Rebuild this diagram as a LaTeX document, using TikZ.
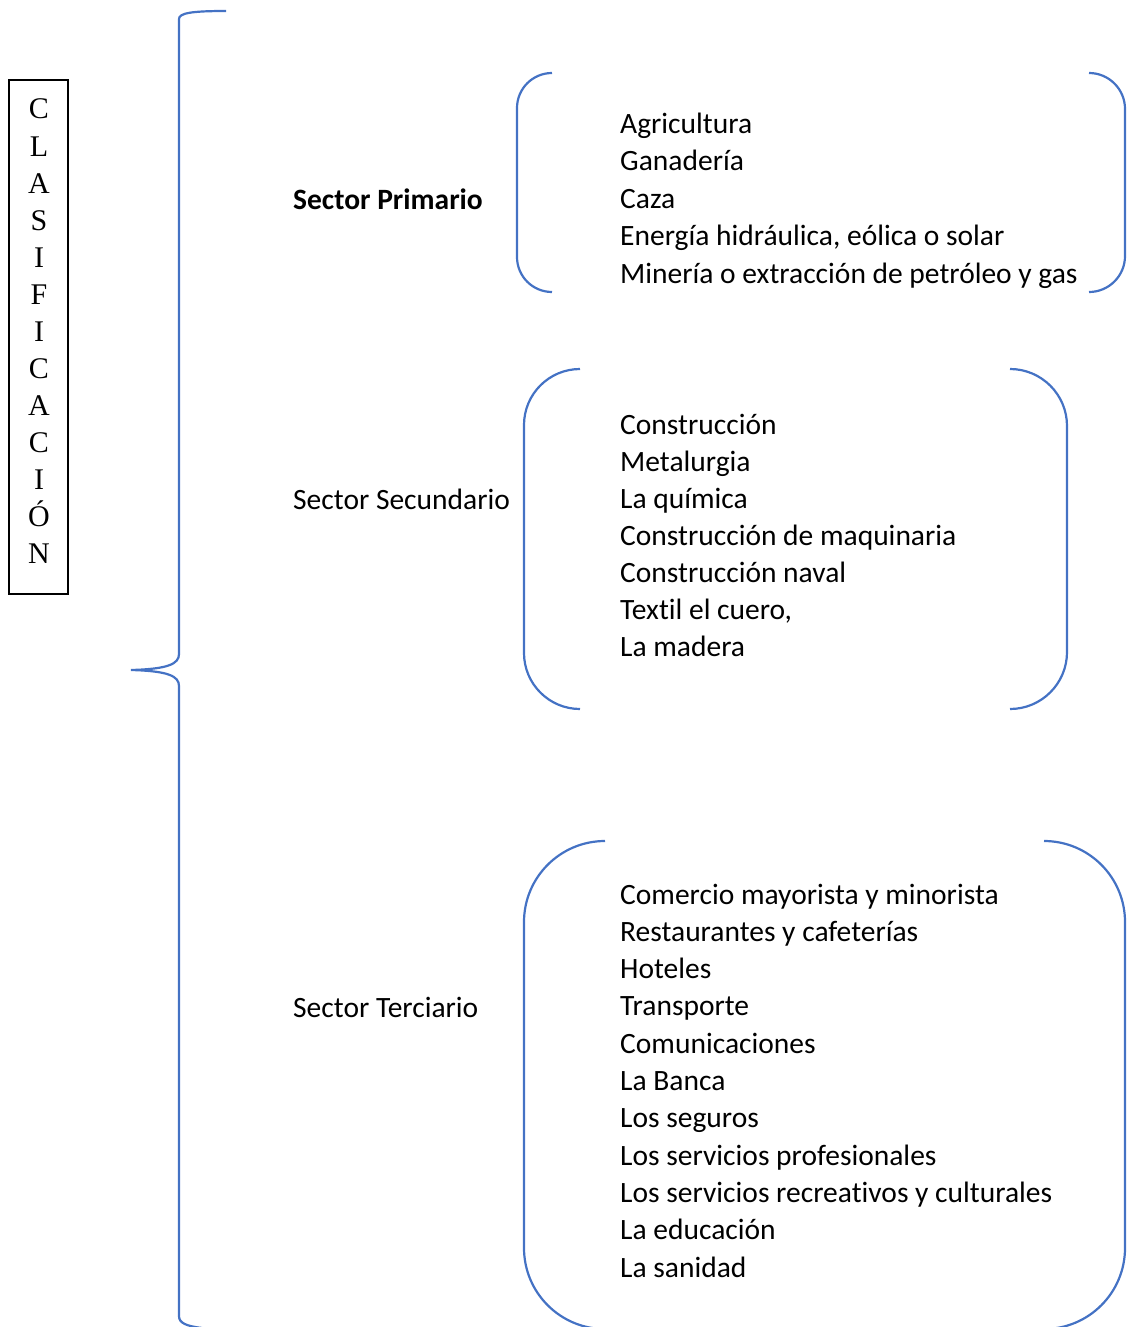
\documentclass[tikz,border=0pt]{standalone}
\usepackage{fontspec}
\setmainfont[Ligatures=NoCommon]{Carlito}
\newfontfamily\timesfont{Liberation Serif}
\definecolor{braceBlue}{RGB}{68,114,196}
\usetikzlibrary{positioning}

\begin{document}
\begin{tikzpicture}[x=1pt,y=-1pt,
    item/.style={anchor=base west,inner sep=0pt,font=\fontsize{29.5}{36}\selectfont},
    bline/.style={braceBlue,line width=2.2pt}]
  \useasboundingbox (0,0) rectangle (1127,1327);
  % vertical title box
  \draw[line width=1.8pt] (9,80) rectangle (68,594);
  \foreach \l [count=\i from 0] in {C,L,A,S,I,F,I,C,A,C,I,Ó,N}
    \node[anchor=base,inner sep=0pt,font=\timesfont\fontsize{30}{32}\selectfont] (t\i) at (39,{119+37*\i}) {\l};
  % big brace
  \draw[bline] (226,11) .. controls (192,11) and (179,13) .. (179,19) -- (179,654)
    .. controls (179,664) and (168,669) .. (131,670)
    .. controls (168,671) and (179,676) .. (179,686) -- (179,1316)
    .. controls (179,1323) and (186,1326) .. (202,1328);
  % sector names
  \node[item,font=\fontsize{29.5}{36}\selectfont\bfseries] (prim) at (293,209) {Sector Primario};
  \node[item] (secu) at (293,509) {Sector Secundario};
  \node[item] (terc) at (293,1017) {Sector Terciario};
  % (a) primario
  \draw[bline,rounded corners=35pt] (552,73) -- (517,73) -- (517,292) -- (552,292);
  \draw[bline,rounded corners=36pt] (1089,73) -- (1125,73) -- (1125,292) -- (1089,292);
  \foreach \t [count=\i from 0] in {Agricultura,Ganadería,Caza,{Energía hidráulica, eólica o solar},Minería o extracción de petróleo y gas}
    \node[item] (p\i) at (620,{133+37.5*\i}) {\t};
  % (b) secundario
  \draw[bline,rounded corners=56pt] (580,369) -- (524,369) -- (524,709) -- (580,709);
  \draw[bline,rounded corners=57pt] (1010,369) -- (1067,369) -- (1067,709) -- (1010,709);
  \foreach \t [count=\i from 0] in {Construcción,Metalurgia,La química,Construcción de maquinaria,Construcción naval,{Textil el cuero,},La madera}
    \node[item] (s\i) at (620,{434+37*\i}) {\t};
  % (c) terciario
  \draw[bline,rounded corners=81pt] (605,841) -- (524,841) -- (524,1329) -- (605,1329);
  \draw[bline,rounded corners=81pt] (1044,841) -- (1125,841) -- (1125,1329) -- (1044,1329);
  \foreach \t [count=\i from 0] in {Comercio mayorista y minorista,Restaurantes y cafeterías,Hoteles,Transporte,Comunicaciones,La Banca,Los seguros,Los servicios profesionales,Los servicios recreativos y culturales,La educación,La sanidad}
    \node[item] (c\i) at (620,{904+37.3*\i}) {\t};
\end{tikzpicture}
\end{document}
